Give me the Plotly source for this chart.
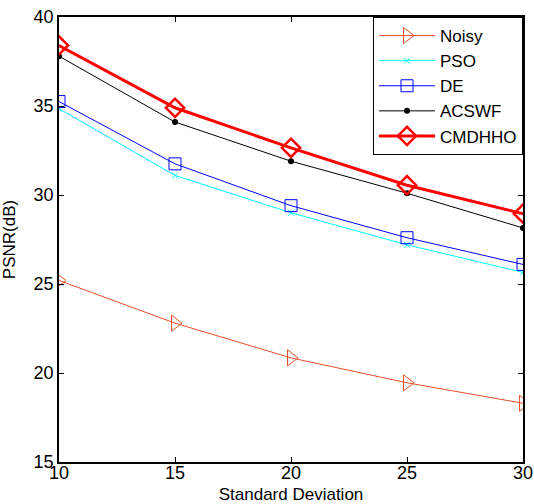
import plotly.graph_objects as go

x_vals = [10, 15, 20, 25, 30]
noisy = [25.2, 22.8, 20.85, 19.45, 18.3]
pso = [34.85, 31.1, 29.0, 27.2, 25.65]
de = [35.25, 31.75, 29.4, 27.6, 26.1]
acswf = [37.8, 34.1, 31.9, 30.1, 28.15]
cmdhho = [38.4, 34.9, 32.65, 30.55, 28.95]

x_ticks = [10, 15, 20, 25, 30]
y_ticks = [15, 20, 25, 30, 35, 40]

fig = go.Figure()
fig.add_trace(go.Scatter(x=x_vals, y=noisy, name="Noisy", mode="lines+markers",
                         line=dict(color="#E8502A", width=1),
                         marker=dict(symbol="triangle-right-open", size=14, color="#E8502A", line=dict(width=1))))
fig.add_trace(go.Scatter(x=x_vals, y=pso, name="PSO", mode="lines+markers",
                         line=dict(color="#00FFFF", width=1),
                         marker=dict(symbol="x-thin", size=6, color="#00FFFF", line=dict(width=1, color="#00FFFF"))))
fig.add_trace(go.Scatter(x=x_vals, y=de, name="DE", mode="lines+markers",
                         line=dict(color="#0000FF", width=1),
                         marker=dict(symbol="square-open", size=12, color="#0000FF", line=dict(width=1))))
fig.add_trace(go.Scatter(x=x_vals, y=acswf, name="ACSWF", mode="lines+markers",
                         line=dict(color="#000000", width=1),
                         marker=dict(symbol="circle", size=6, color="#000000")))
fig.add_trace(go.Scatter(x=x_vals, y=cmdhho, name="CMDHHO", mode="lines+markers",
                         line=dict(color="#FF0000", width=3),
                         marker=dict(symbol="diamond-open", size=14, color="#FF0000", line=dict(width=2.5))))

font = "Liberation Sans, Arial, sans-serif"
fig.update_layout(
    width=534, height=504,
    margin=dict(l=59, r=11, t=17, b=42),
    paper_bgcolor="white", plot_bgcolor="white",
    font=dict(family=font, size=17, color="black"),
    showlegend=True,
    legend=dict(x=1, y=1, xanchor="right", yanchor="top",
                bordercolor="black", borderwidth=1, bgcolor="white",
                font=dict(size=17, family=font),
                itemwidth=56, tracegroupgap=4),
)
fig.update_xaxes(range=[10, 30], tickvals=x_ticks, showgrid=False, zeroline=False,
                 showline=True, linecolor="black", linewidth=1.5, mirror="ticks",
                 ticks="inside", ticklen=5, tickcolor="black", automargin=False,
                 ticklabelstandoff=-6,
                 title=dict(text="Standard Deviation", font=dict(size=17)),
                 tickfont=dict(size=18))
fig.update_yaxes(range=[15, 40], tickvals=y_ticks, showgrid=False, zeroline=False,
                 showline=True, linecolor="black", linewidth=1.5, mirror="ticks",
                 ticks="inside", ticklen=5, tickcolor="black", automargin=False,
                 title=dict(text="PSNR(dB)", font=dict(size=17)),
                 tickfont=dict(size=18))

fig.write_html("out.html", config={"displayModeBar": False},
               post_script="document.body.style.margin='0';document.body.style.padding='0';")
